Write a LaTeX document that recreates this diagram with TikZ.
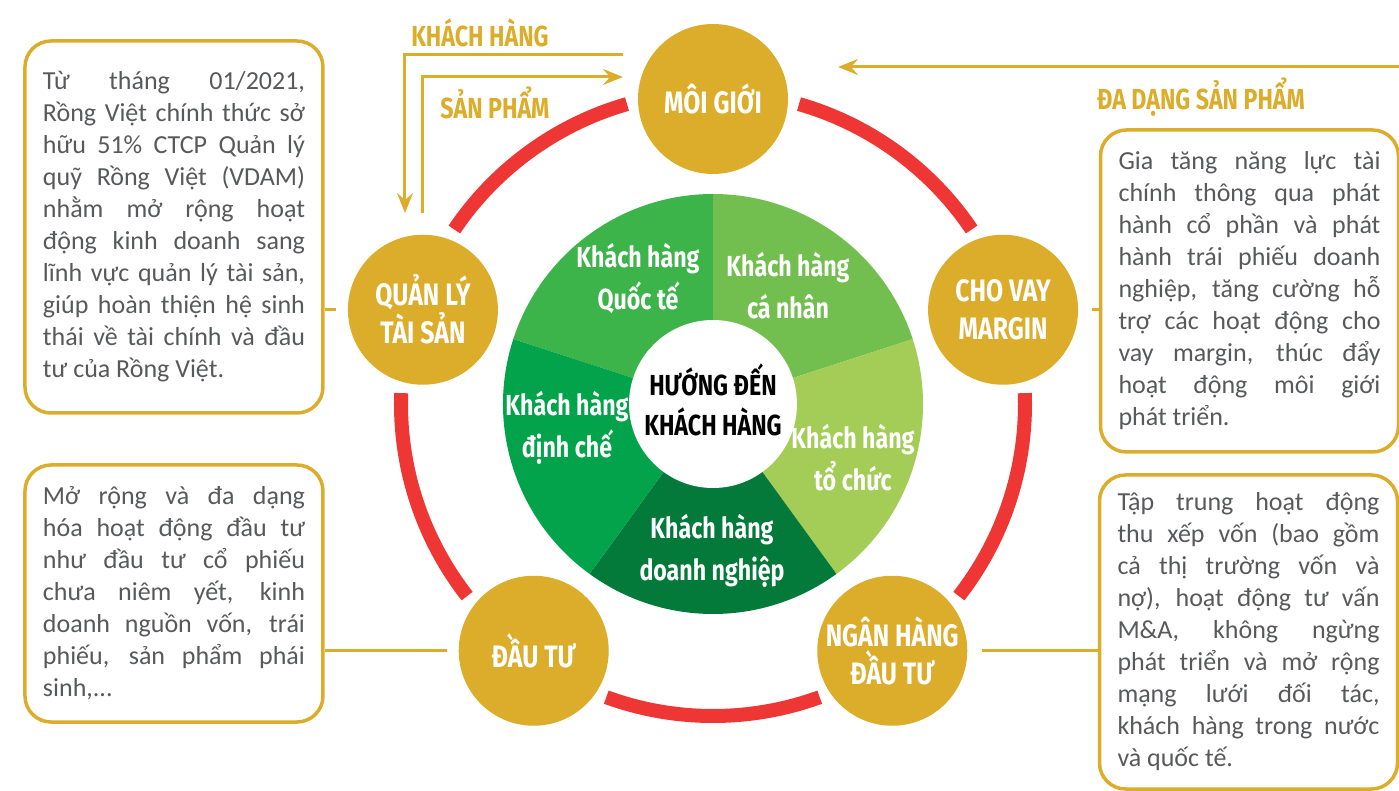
\documentclass[tikz,border=0pt]{standalone}
\usepackage{fontspec}
\setmainfont{Carlito}
\newfontfamily\hfont[FakeStretch=0.8]{Fira Sans}
\usetikzlibrary{arrows.meta,calc}
\definecolor{gold}{HTML}{DCAC2B}
\definecolor{ringred}{HTML}{EE3634}
\definecolor{gA}{HTML}{3CB44A}
\definecolor{gB}{HTML}{72BF50}
\definecolor{gC}{HTML}{A3CD56}
\definecolor{gD}{HTML}{037A3A}
\definecolor{gE}{HTML}{02A34A}
\definecolor{txt}{HTML}{58595B}
\newcommand\jl[1]{\makebox[262pt][s]{\spaceskip=0pt\xspaceskip=0pt #1}\\}
\begin{document}
\begin{tikzpicture}[x=1pt,y=1pt,
  hub/.style={circle, fill=gold, minimum size=150pt, inner sep=0pt, text=white,
    font=\hfont\bfseries\fontsize{31}{38}\selectfont, align=center},
  segl/.style={text=white, font=\hfont\bfseries\fontsize{29}{42}\selectfont, align=center},
  infobox/.style={draw=gold, line width=3.5pt, rounded corners=26pt, fill=white,
    text width=262pt, inner xsep=18pt, inner ysep=0pt,
    font=\fontsize{26}{32}\selectfont, text=txt, align=justify},
  conn/.style={draw=gold, line width=3pt},
  flow/.style={draw=gold, line width=3pt, -{Stealth[length=20pt,width=16pt,inset=7pt]}},
  flowlbl/.style={text=gold, font=\hfont\bfseries\fontsize{29}{34}\selectfont},
  ring/.style={draw=ringred, line width=14pt}]
\useasboundingbox (-713,-387) rectangle (686,404);

% pie
\fill[gA] (0,0) -- (90:210) arc[start angle=90,end angle=162,radius=210] -- cycle;
\fill[gB] (0,0) -- (18:210) arc[start angle=18,end angle=90,radius=210] -- cycle;
\fill[gC] (0,0) -- (-54:210) arc[start angle=-54,end angle=18,radius=210] -- cycle;
\fill[gD] (0,0) -- (-126:210) arc[start angle=-126,end angle=-54,radius=210] -- cycle;
\fill[gE] (0,0) -- (162:210) arc[start angle=162,end angle=234,radius=210] -- cycle;
\node[circle, fill=white, minimum size=168pt, inner sep=0pt] (core) at (0,0) {};
\node[font=\hfont\bfseries\fontsize{29}{40}\selectfont, align=center] (coretxt) at (0,4) {HƯỚNG ĐẾN\\KHÁCH HÀNG};

\node[segl] (sA) at (-75,125) {Khách hàng\\Quốc tế};
\node[segl] (sB) at (75,118) {Khách hàng\\cá nhân};
\node[segl] (sC) at (140,-54) {Khách hàng\\tổ chức};
\node[segl] (sD) at (-1,-147) {Khách hàng\\doanh nghiệp};
\node[segl] (sE) at (-146,-24) {Khách hàng\\định chế};

% red ring
\draw[ring] (34:312) arc[start angle=34,end angle=74,radius=312];
\draw[ring] (-38:312) arc[start angle=-38,end angle=2,radius=312];
\draw[ring] (-110:312) arc[start angle=-110,end angle=-70,radius=312];
\draw[ring] (-182:312) arc[start angle=-182,end angle=-142,radius=312];
\draw[ring] (106:312) arc[start angle=106,end angle=146,radius=312];

% hubs
\node[hub] (mg) at (90:305) {MÔI GIỚI};
\node[hub] (cv) at (18:305) {CHO VAY\\MARGIN};
\node[hub] (nh) at (-54:305) {NGÂN HÀNG\\ĐẦU TƯ};
\node[hub] (dt) at (-126:305) {ĐẦU TƯ};
\node[hub] (ql) at (162:305) {QUẢN LÝ\\TÀI SẢN};

% info boxes
\node[infobox, minimum height=372pt] (b1) at (-539,177) {%
\jl{Từ tháng 01/2021,}%
\jl{Rồng Việt chính thức sở}%
\jl{hữu 51\% CTCP Quản lý}%
\jl{quỹ Rồng Việt (VDAM)}%
\jl{nhằm mở rộng hoạt}%
\jl{động kinh doanh sang}%
\jl{lĩnh vực quản lý tài sản,}%
\jl{giúp hoàn thiện hệ sinh}%
\jl{thái về tài chính và đầu}%
tư của Rồng Việt.};

\node[infobox, minimum height=257pt] (b2) at (-539,-189.5) {%
\jl{Mở rộng và đa dạng}%
\jl{hóa hoạt động đầu tư}%
\jl{như đầu tư cổ phiếu}%
\jl{chưa niêm yết, kinh}%
\jl{doanh nguồn vốn, trái}%
\jl{phiếu, sản phẩm phái}%
sinh,...};

\node[infobox, minimum height=322pt] (b3) at (536.5,113) {%
\jl{Gia tăng năng lực tài}%
\jl{chính thông qua phát}%
\jl{hành cổ phần và phát}%
\jl{hành trái phiếu doanh}%
\jl{nghiệp, tăng cường hỗ}%
\jl{trợ các hoạt động cho}%
\jl{vay margin, thúc đẩy}%
\jl{hoạt động môi giới}%
phát triển.};

\node[infobox, minimum height=314pt] (b4) at (535.5,-228) {%
\jl{Tập trung hoạt động}%
\jl{thu xếp vốn (bao gồm}%
\jl{cả thị trường vốn và}%
\jl{nợ), hoạt động tư vấn}%
\jl{M\&A, không ngừng}%
\jl{phát triển và mở rộng}%
\jl{mạng lưới đối tác,}%
\jl{khách hàng trong nước}%
và quốc tế.};

% connectors
\draw[conn] (b1.east |- ql.center) -- ($(ql.west)+(-12,0)$);
\draw[conn] (b2.east |- dt.center) -- ($(dt.west)+(-12,0)$);
\draw[conn] ($(cv.east)+(14,0)$) -- (b3.west |- cv.center);
\draw[conn] ($(nh.east)+(15,0)$) -- (b4.west |- nh.center);

% flow arrows
\coordinate (khs) at (-90,349);
\coordinate (khc) at (-308,349);
\coordinate (khe) at (-308,191);
\draw[flow] (khs) -- (khc) -- (khe);
\coordinate (sps) at (-290,191);
\coordinate (spc) at (-290,327);
\coordinate (spe) at (-90,327);
\draw[flow] (sps) -- (spc) -- (spe);
\coordinate (dds) at (686,337);
\coordinate (dde) at (125,337);
\draw[flow] (dds) -- (dde);

\node[flowlbl] (lkh) at (-233,371) {KHÁCH HÀNG};
\node[flowlbl] (lsp) at (-218,301) {SẢN PHẨM};
\node[flowlbl] (ldd) at (488,307) {ĐA DẠNG SẢN PHẨM};
\end{tikzpicture}
\end{document}
